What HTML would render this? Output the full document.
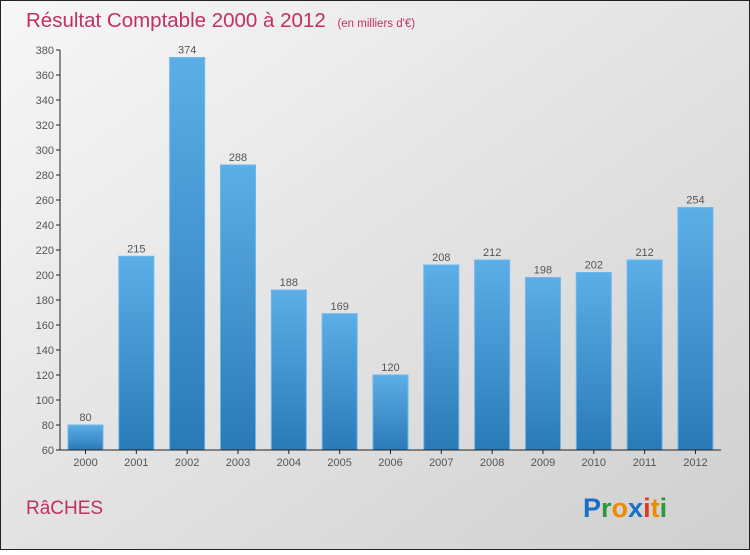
<!DOCTYPE html>
<html><head><meta charset="utf-8"><style>
html,body{margin:0;padding:0;}
body{width:750px;height:550px;overflow:hidden;font-family:"Liberation Sans",sans-serif;}
</style></head><body>
<svg width="750" height="550" xmlns="http://www.w3.org/2000/svg">
<defs>
<linearGradient id="bg" x1="0" y1="0" x2="1" y2="1"><stop offset="0" stop-color="#f7f7f7"/><stop offset="1" stop-color="#cfcfcf"/></linearGradient>
<linearGradient id="bar" x1="0" y1="0" x2="0" y2="1"><stop offset="0" stop-color="#5caee6"/><stop offset="1" stop-color="#2a7ab8"/></linearGradient>
</defs>
<rect x="0.5" y="0.5" width="749" height="549" fill="url(#bg)" stroke="#222"/>
<text x="26" y="27" font-size="20.5" fill="#c2305f">Résultat Comptable 2000 à 2012 <tspan font-size="11.5" dx="6">(en milliers d'€)</tspan></text>
<g id="yaxis"></g>
<g id="bars"></g>
<g id="xaxis"></g>
<text x="26" y="514" font-size="19" fill="#c2305f">RâCHES</text>
<text x="583" y="517" font-size="27" font-weight="bold"><tspan fill="#1a6fc4">P</tspan><tspan fill="#2a9a3a">r</tspan><tspan fill="#f08a00">o</tspan><tspan fill="#1a6fc4">x</tspan><tspan fill="#e03a1a">i</tspan><tspan fill="#f08a00">t</tspan><tspan fill="#2a9a3a">i</tspan></text>
</svg>
<script>
const years=["2000","2001","2002","2003","2004","2005","2006","2007","2008","2009","2010","2011","2012"];
const values=[80,215,374,288,188,169,120,208,212,198,202,212,254];
const yTicks=[60,80,100,120,140,160,180,200,220,240,260,280,300,320,340,360,380];
const NS="http://www.w3.org/2000/svg";
const y0=60,y1=380,py0=450,py1=50;
function yS(v){return py0-(v-y0)*(py0-py1)/(y1-y0);}
function xS(i){return 68+i*50.83;}
const bw=35;
function mk(t,a,p){const e=document.createElementNS(NS,t);for(const k in a)e.setAttribute(k,a[k]);p.appendChild(e);return e;}
const ya=document.getElementById('yaxis'),ba=document.getElementById('bars'),xa=document.getElementById('xaxis');
mk('line',{x1:60,y1:yS(380),x2:60,y2:450,stroke:'#222'},ya);
yTicks.forEach(v=>{
 mk('line',{x1:56,x2:60,y1:yS(v),y2:yS(v),stroke:'#222'},ya);
 const t=mk('text',{x:54,y:yS(v)+4,'font-size':11,fill:'#555','text-anchor':'end'},ya);
 t.textContent=v;
 
 
});
mk('line',{x1:60,y1:450,x2:721,y2:450,stroke:'#222'},xa);
years.forEach((y,i)=>{
 const x=xS(i),v=values[i];
 const r=mk('rect',{x:x,y:yS(v),width:bw,height:450-yS(v),fill:'url(#bar)',stroke:'#6bb8ee','stroke-width':1},ba);
 
 
 const lt=mk('text',{x:x+bw/2,y:yS(v)-4,'font-size':11,fill:'#555','text-anchor':'middle'},ba);
 lt.textContent=v;
 
 
 mk('line',{x1:x+bw/2,x2:x+bw/2,y1:450,y2:454,stroke:'#222'},xa);
 const xt=mk('text',{x:x+bw/2,y:466,'font-size':11,fill:'#555','text-anchor':'middle'},xa);
 xt.textContent=y;
 
 
});
</script>
</body></html>
